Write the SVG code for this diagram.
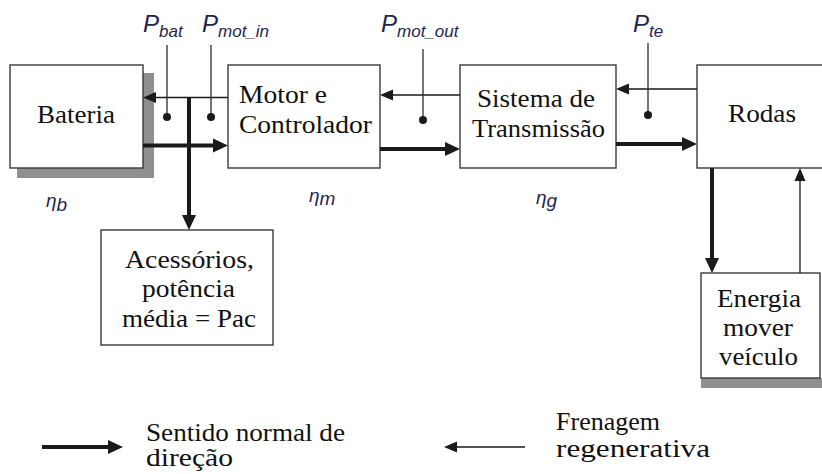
<svg xmlns="http://www.w3.org/2000/svg" width="822" height="474" viewBox="0 0 822 474">
<defs>
<style>
.box{fill:#fff;stroke:#3a3a3a;stroke-width:1.4}
.shadow{fill:#8f8f8f}
.lbl{font-family:"Liberation Serif","Times New Roman",Times,serif;font-size:25px;fill:#111}
.thick{stroke:#1a1a1a;stroke-width:4;fill:none}
.thin{stroke:#1a1a1a;stroke-width:1.3;fill:none}
.probe{stroke:#2a2a2a;stroke-width:1.3}
.dot{fill:#1a1a1a}
.sym{font-family:"Liberation Sans",Arial,sans-serif;font-style:italic;fill:#1e2550}
</style>
<marker id="hThick" markerUnits="userSpaceOnUse" markerWidth="16" markerHeight="16" refX="0" refY="7" orient="auto" viewBox="0 0 16 14">
<path d="M0,0 L15,7 L0,14 Z" fill="#1a1a1a"/>
</marker>
<marker id="hThin" markerUnits="userSpaceOnUse" markerWidth="14" markerHeight="12" refX="0" refY="5.5" orient="auto" viewBox="0 0 14 11">
<path d="M0,0 L13,5.5 L0,11 Z" fill="#1a1a1a"/>
</marker>
</defs>
<rect width="822" height="474" fill="#fff"/>

<g id="bateria">
<rect class="shadow" x="17" y="73" width="137" height="105"/>
<rect class="box" x="10" y="65" width="133" height="103"/>
<text class="lbl" x="37" y="122.5" textLength="78" lengthAdjust="spacingAndGlyphs">Bateria</text>
</g>

<g id="motor">
<rect class="box" x="228" y="65" width="152" height="103"/>
<text class="lbl" x="239" y="103" textLength="88" lengthAdjust="spacingAndGlyphs">Motor e</text>
<text class="lbl" x="239" y="133" textLength="133" lengthAdjust="spacingAndGlyphs">Controlador</text>
</g>

<g id="transmissao">
<rect class="box" x="460" y="65" width="156" height="103"/>
<text class="lbl" x="477" y="106.5" textLength="118" lengthAdjust="spacingAndGlyphs">Sistema de</text>
<text class="lbl" x="472" y="136.5" textLength="133" lengthAdjust="spacingAndGlyphs">Transmissão</text>
</g>

<g id="rodas">
<rect class="box" x="697" y="65" width="140" height="103"/>
<text class="lbl" x="728" y="121.5" textLength="68" lengthAdjust="spacingAndGlyphs">Rodas</text>
</g>

<g id="acessorios">
<rect class="box" x="101" y="230" width="172" height="115"/>
<text class="lbl" x="125" y="268" textLength="129" lengthAdjust="spacingAndGlyphs">Acessórios,</text>
<text class="lbl" x="142" y="297" textLength="93" lengthAdjust="spacingAndGlyphs">potência</text>
<text class="lbl" x="122" y="327" textLength="134" lengthAdjust="spacingAndGlyphs">média = Pac</text>
</g>

<g id="energia">
<rect class="shadow" x="701" y="378" width="125" height="10"/>
<rect class="box" x="701" y="273" width="119" height="105"/>
<text class="lbl" x="717" y="307" textLength="84" lengthAdjust="spacingAndGlyphs">Energia</text>
<text class="lbl" x="723" y="336" textLength="70" lengthAdjust="spacingAndGlyphs">mover</text>
<text class="lbl" x="719" y="365" textLength="79" lengthAdjust="spacingAndGlyphs">veículo</text>
</g>

<g id="connectors">
<line class="thin" x1="228" y1="97.5" x2="156" y2="97.5" marker-end="url(#hThin)"/>
<line class="thick" x1="143" y1="145.5" x2="213" y2="145.5" marker-end="url(#hThick)"/>
<line class="thick" x1="189" y1="97.5" x2="189" y2="215" marker-end="url(#hThick)"/>
<line class="thin" x1="460" y1="95" x2="393" y2="95" marker-end="url(#hThin)"/>
<line class="thick" x1="380" y1="149" x2="445" y2="149" marker-end="url(#hThick)"/>
<line class="thin" x1="697" y1="89" x2="629" y2="89" marker-end="url(#hThin)"/>
<line class="thick" x1="616" y1="144" x2="682" y2="144" marker-end="url(#hThick)"/>
<line class="thick" x1="712" y1="168" x2="712" y2="258" marker-end="url(#hThick)"/>
<line class="thin" x1="800" y1="273" x2="800" y2="181" marker-end="url(#hThin)"/>
<line class="probe" x1="167" y1="45" x2="167" y2="117"/>
<circle class="dot" cx="167" cy="117" r="4"/>
<line class="probe" x1="211" y1="45" x2="211" y2="117"/>
<circle class="dot" cx="211" cy="117" r="4"/>
<line class="probe" x1="423" y1="49" x2="423" y2="120"/>
<circle class="dot" cx="423" cy="120" r="4"/>
<line class="probe" x1="648" y1="43" x2="648" y2="115"/>
<circle class="dot" cx="648" cy="115" r="4"/>
</g>

<g id="symbols">
<text class="sym" x="143" y="32" font-size="24">P<tspan font-size="17" dy="5">bat</tspan></text>
<text class="sym" x="202" y="32" font-size="24">P<tspan font-size="17" dy="5">mot_in</tspan></text>
<text class="sym" x="381" y="32" font-size="24">P<tspan font-size="17" dy="5">mot_out</tspan></text>
<text class="sym" x="633" y="32" font-size="24">P<tspan font-size="17" dy="5">te</tspan></text>
<text class="sym" x="46" y="207" font-size="19">η<tspan font-size="19" dy="4">b</tspan></text>
<text class="sym" x="309" y="202" font-size="19">η<tspan font-size="19" dy="3">m</tspan></text>
<text class="sym" x="536" y="204" font-size="19">η<tspan font-size="19" dy="3">g</tspan></text>
</g>

<g id="legend">
<line class="thick" x1="42" y1="447" x2="108" y2="447" marker-end="url(#hThick)"/>
<text class="lbl" x="146" y="441" textLength="199" lengthAdjust="spacingAndGlyphs">Sentido normal de</text>
<text class="lbl" x="146" y="466" textLength="87" lengthAdjust="spacingAndGlyphs">direção</text>
<line class="thin" x1="525" y1="447" x2="457" y2="447" marker-end="url(#hThin)"/>
<text class="lbl" x="556" y="430" textLength="104" lengthAdjust="spacingAndGlyphs">Frenagem</text>
<text class="lbl" x="556" y="457" textLength="154" lengthAdjust="spacingAndGlyphs">regenerativa</text>
</g>
</svg>
